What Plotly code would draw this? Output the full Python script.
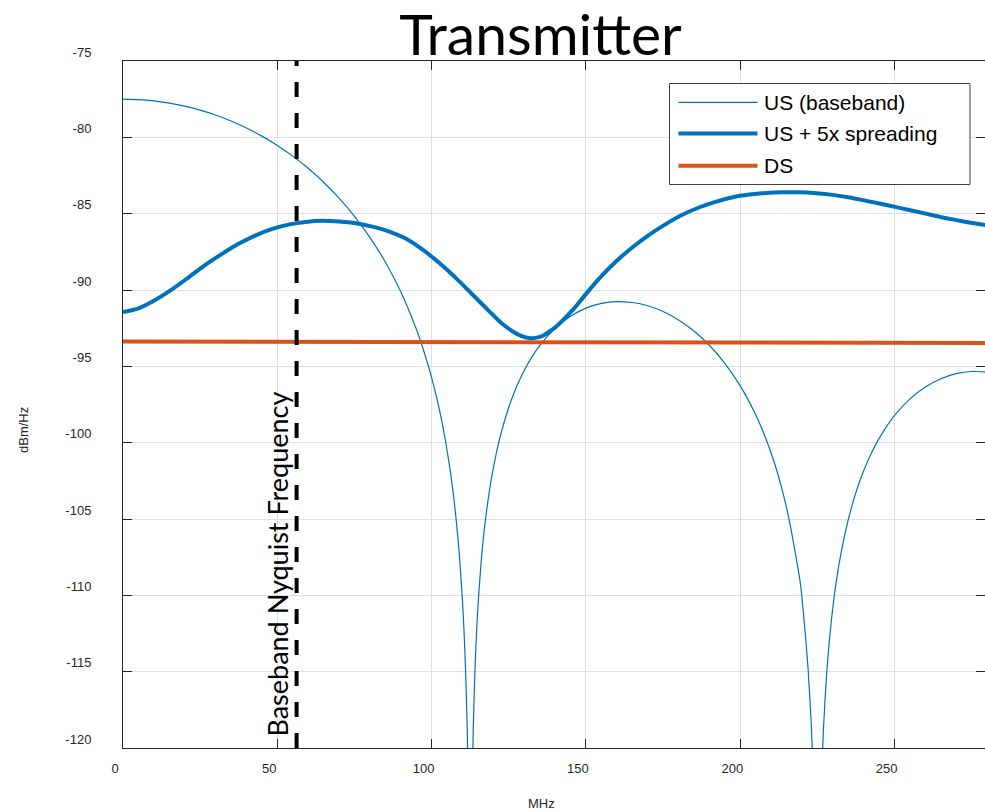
import plotly.graph_objects as go

# ---------------- data ----------------
title_text = "Transmitter"
x_label = "MHz"
y_label = "dBm/Hz"
series_names = ["US (baseband)", "US + 5x spreading", "DS"]
nyquist_label = "Baseband Nyquist Frequency"
nyquist_mhz = 56.25

us_freq = [0, 5, 10, 15, 20, 25, 30, 35, 40, 45, 50, 55, 60, 65, 70, 75, 80, 85, 90, 95,
           97, 98.5, 100, 101.5, 103, 104.5, 106, 107, 108, 109, 110, 110.5, 111, 111.5, 112, 112.5,
           113, 113.5, 114, 114.5, 115, 116, 117, 118.5, 120, 122.5, 125, 127.5, 130, 132.5, 135,
           140, 145, 150, 155, 160, 165, 170, 175, 180, 185, 190, 195, 200, 205, 207.5, 210,
           212, 214, 216, 218, 219.5, 221, 222, 223, 224, 225, 226, 227, 228, 229, 230.5, 232, 234,
           236, 238, 240, 242.5, 245, 250, 255, 260, 265, 270, 275, 280]
us_psd = [-77.50, -77.53, -77.61, -77.76, -77.96, -78.22, -78.54, -78.93, -79.39, -79.92, -80.53,
          -81.23, -82.03, -82.94, -83.98, -85.17, -86.55, -88.17, -90.12, -92.54,
          -93.70, -94.67, -95.74, -96.94, -98.30, -99.89, -101.80, -103.31, -105.13, -107.38,
          -110.38, -112.35, -114.89, -118.44, -124.5, -150,
          -124.58, -118.60, -115.12, -112.66, -110.75, -107.92, -105.80, -103.45, -101.65, -99.38,
          -97.68, -96.34, -95.27, -94.38, -93.64,
          -92.51, -91.72, -91.19, -90.88, -90.76, -90.82, -91.03, -91.41, -91.96, -92.69, -93.62,
          -94.80, -96.28, -98.17, -99.33, -100.68,
          -101.94, -103.42, -105.20, -107.42, -109.24, -112.37, -114.89, -118.45, -124.5, -150,
          -124.58, -118.6, -115.12, -112.66, -109.98, -107.96, -105.89,
          -104.27, -102.94, -101.84, -100.68, -99.72, -98.22, -97.13, -96.35, -95.81, -95.48,
          -95.34, -95.37]

spread_freq = [0, 5, 10, 16, 21.4, 26.8, 32.2, 37.6, 43, 48.4, 53.9, 59.2, 64.6, 70.1, 75.4, 80.8,
               86.3, 91.6, 97.1, 102.5, 107.9, 113.3, 118.7, 122.5, 126.3, 129, 131.7, 134, 136, 138,
               140.4, 145.8, 150.1, 154.4, 159.8, 165.2, 170.6, 176.0, 181.4, 186.8, 192.2, 197.6,
               203.0, 208.4, 213.8, 219.2, 224.6, 230.0, 235.4, 240.8, 246.2, 251.6, 257.0, 262.4,
               267.8, 273.2, 280]
spread_psd = [-91.45, -91.2, -90.7, -89.94, -89.15, -88.34, -87.62, -86.96, -86.42, -86.0, -85.70,
              -85.54, -85.47, -85.52, -85.63, -85.85, -86.17, -86.63, -87.36, -88.23, -89.22, -90.31,
              -91.40, -92.15, -92.72, -93.0, -93.15, -93.12, -93.0, -92.75, -92.39, -91.29, -90.24,
              -89.22, -88.12, -87.18, -86.37, -85.67, -85.06, -84.58, -84.21, -83.92, -83.75, -83.64,
              -83.60, -83.60, -83.66, -83.77, -83.94, -84.16, -84.38, -84.62, -84.86, -85.10, -85.34,
              -85.54, -85.77]

ds_freq = [0, 140, 280]
ds_psd = [-93.38, -93.42, -93.47]

x_ticks = [0, 50, 100, 150, 200, 250]
y_ticks = [-120, -115, -110, -105, -100, -95, -90, -85, -80, -75]
y_tick_text = ["-120", "-115", "-110", "-105", "-100", "-95", "-90", "-85", "-80", "-75"]
x_range = [0, 279.3]
y_range = [-120, -75]

# ---------------- styling ----------------
BLUE = "#0072BD"
ORANGE = "#D95319"
AX = "#262626"
GRID = "#dfdfdf"
TICKFONT = dict(family="Liberation Sans, Arial", size=13, color=AX)

series_styles = [dict(color=BLUE, width=1.2), dict(color=BLUE, width=4), dict(color=ORANGE, width=4)]

fig = go.Figure()
fig.add_trace(go.Scatter(x=us_freq, y=us_psd, mode="lines", name=series_names[0],
                         line=dict(**series_styles[0], shape="spline", smoothing=0.6),
                         showlegend=False))
fig.add_trace(go.Scatter(x=spread_freq, y=spread_psd, mode="lines", name=series_names[1],
                         line=dict(**series_styles[1], shape="spline", smoothing=0.8), showlegend=False))
fig.add_trace(go.Scatter(x=ds_freq, y=ds_psd, mode="lines", name=series_names[2],
                         line=series_styles[2], showlegend=False))
fig.add_trace(go.Scatter(x=[nyquist_mhz, nyquist_mhz], y=[y_range[0], y_range[1]], mode="lines",
                         line=dict(color="black", width=4, dash="15px,16px"),
                         showlegend=False, hoverinfo="skip"))

L, R, T, B = 123, 0, 61, 64
W, H = 985, 812
PW, PH = W - L - R, H - T - B


def px(xp):
    return (xp - L) / PW


def py(yp):
    return (T + PH - yp) / PH


annotations = []
# Nyquist label (rotated)
annotations.append(dict(x=nyquist_mhz, xref="x", y=py(564), yref="paper", text=nyquist_label,
                        textangle=-90, showarrow=False, xshift=-20,
                        font=dict(family="Lato", size=27, color="black"),
                        xanchor="center", yanchor="middle"))
# axis titles
annotations.append(dict(x=px(541), y=py(803), xref="paper", yref="paper", text=x_label,
                        showarrow=False, font=TICKFONT, xanchor="center", yanchor="middle"))
annotations.append(dict(x=px(23), y=py(430), xref="paper", yref="paper", text=y_label,
                        textangle=-90, showarrow=False, font=TICKFONT,
                        xanchor="center", yanchor="middle"))

# custom legend (long line samples like the original)
shapes = [dict(type="rect", xref="paper", yref="paper", x0=px(669.5), x1=px(970), y0=py(184.5),
               y1=py(83.5), line=dict(color="#404040", width=1), fillcolor="white", layer="above")]
row_y = [102.3, 133.5, 165.7]
for name, style, ry in zip(series_names, series_styles, row_y):
    shapes.append(dict(type="line", xref="paper", yref="paper", x0=px(678.5), x1=px(757.5),
                       y0=py(ry), y1=py(ry), line=style, layer="above"))
    annotations.append(dict(x=px(762), y=py(ry), xref="paper", yref="paper", text=name,
                            showarrow=False, xanchor="left", yanchor="middle",
                            font=dict(family="Liberation Sans, Arial", size=21, color="black")))

fig.update_layout(
    width=W, height=H,
    margin=dict(l=L, r=R, t=T, b=B, pad=0),
    paper_bgcolor="white", plot_bgcolor="white",
    showlegend=False,
    title=dict(text=title_text, x=540.5 / W, xref="container", xanchor="center",
               y=1 - 35 / H, yref="container", yanchor="middle",
               font=dict(family="Lato", size=57, color="black")),
    annotations=annotations,
    shapes=shapes,
)
fig.update_xaxes(range=x_range, tickvals=x_ticks, showgrid=True, gridcolor=GRID, gridwidth=1,
                 zeroline=False, showline=True, linecolor=AX, linewidth=1, mirror="ticks",
                 ticks="inside", ticklen=9, tickcolor=AX, tickfont=TICKFONT,
                 ticklabelshift=-8, ticklabelstandoff=8)
fig.update_yaxes(range=y_range, tickvals=y_ticks, ticktext=y_tick_text, showgrid=True,
                 gridcolor=GRID, gridwidth=1,
                 zeroline=False, showline=True, linecolor=AX, linewidth=1, mirror="ticks",
                 ticks="inside", ticklen=9, tickcolor=AX, tickfont=TICKFONT,
                 ticklabelshift=-9, ticklabelstandoff=28)

fig.write_html("out.html", config={"displayModeBar": False},
               post_script="document.body.style.margin='0';")
